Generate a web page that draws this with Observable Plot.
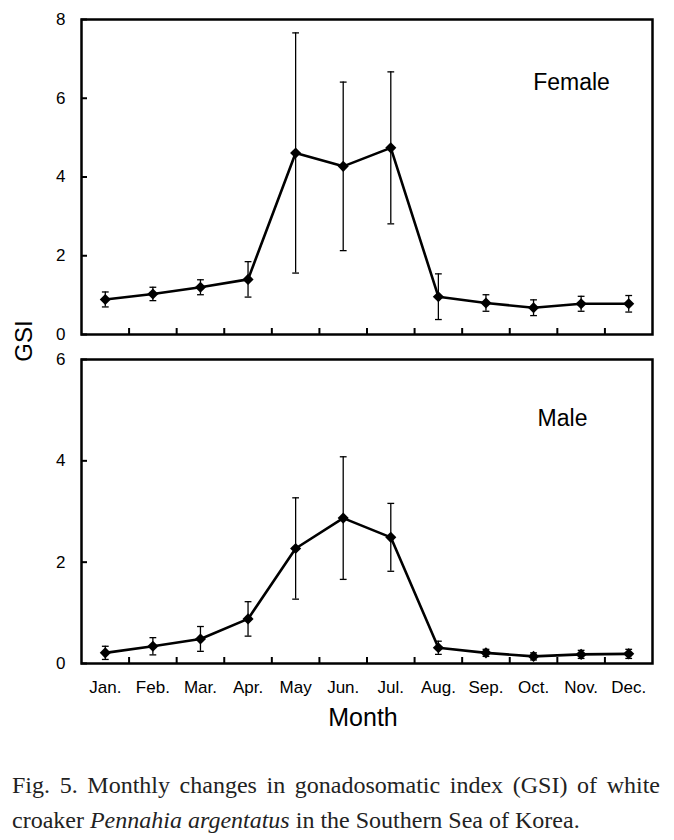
<!DOCTYPE html>
<html>
<head>
<meta charset="utf-8">
<script src="https://cdn.jsdelivr.net/npm/d3@7"></script>
<script src="https://cdn.jsdelivr.net/npm/@observablehq/plot@0.6"></script>
<style>
  html, body { margin: 0; padding: 0; background: #fff; }
  #wrap { position: relative; width: 674px; height: 840px; font-family: "Liberation Sans", Arial, sans-serif; }
  #wrap svg { display: block; overflow: visible; }
  #gsi { position: absolute; left: 23.5px; top: 341px; transform: translate(-50%, -50%) rotate(-90deg); font-size: 24px; white-space: nowrap; color: #000; }
  #caption { position: absolute; left: 12px; top: 768px; width: 648px; font-family: "Liberation Serif", "Times New Roman", serif; font-size: 24px; line-height: 35px; color: #222; }
  #caption .l1 { text-align: justify; text-align-last: justify; white-space: nowrap; }
</style>
</head>
<body>
<div id="wrap">
  <div id="top"></div>
  <div id="bottom"></div>
  <div id="gsi">GSI</div>
  <div id="caption">
    <div class="l1">Fig. 5. Monthly changes in gonadosomatic index (GSI) of white</div>
    <div class="l2">croaker <i>Pennahia argentatus</i> in the Southern Sea of Korea.</div>
  </div>
</div>
<script>
const months = ["Jan.", "Feb.", "Mar.", "Apr.", "May", "Jun.", "Jul.", "Aug.", "Sep.", "Oct.", "Nov.", "Dec."];
const femaleMean = [0.89, 1.03, 1.20, 1.40, 4.61, 4.27, 4.74, 0.96, 0.80, 0.68, 0.78, 0.78];
const femaleSD   = [0.19, 0.17, 0.19, 0.45, 3.05, 2.14, 1.93, 0.58, 0.21, 0.20, 0.19, 0.21];
const maleMean   = [0.21, 0.34, 0.485, 0.88, 2.27, 2.87, 2.49, 0.31, 0.21, 0.14, 0.18, 0.19];
const maleSD     = [0.13, 0.17, 0.245, 0.34, 1.00, 1.21, 0.67, 0.13, 0.07, 0.07, 0.08, 0.09];
const femaleTicks = [0, 2, 4, 6, 8];
const maleTicks = [0, 2, 4, 6];

const monthIdx = months.map((m, i) => i + 1);
const boundaries = d3.range(1.5, months.length, 1);

function table(mean, sd) {
  return months.map((m, i) => ({x: i + 1, month: m, y: mean[i], lo: mean[i] - sd[i], hi: mean[i] + sd[i]}));
}

const capSymbol = {
  draw(ctx, size) {
    const r = Math.sqrt(size / Math.PI);
    ctx.moveTo(-r, 0);
    ctx.lineTo(r, 0);
  }
};

function panel({data, yMax, yTicks, label, height, marginTop, marginBottom, showMonths, labelDx, labelDy}) {
  const marks = [
    Plot.ruleX(data, {x: "x", y1: "lo", y2: "hi", stroke: "#000", strokeWidth: 1.3}),
    Plot.dot(data, {x: "x", y: "hi", symbol: capSymbol, r: 3.4, stroke: "#000", strokeWidth: 1.3, fill: "none"}),
    Plot.dot(data, {x: "x", y: "lo", symbol: capSymbol, r: 3.4, stroke: "#000", strokeWidth: 1.3, fill: "none"}),
    Plot.line(data, {x: "x", y: "y", stroke: "#000", strokeWidth: 2.6}),
    Plot.dot(data, {x: "x", y: "y", symbol: "diamond2", r: 5, fill: "#000", stroke: "none"}),
    Plot.axisY({ticks: yTicks, tickSize: -6, tickPadding: 22, strokeWidth: 2, fontSize: 17, label: null, tickFormat: d => String(d)}),
    Plot.axisX({ticks: boundaries, tickSize: -6, strokeWidth: 2, tickFormat: () => "", label: null}),
    Plot.frame({stroke: "#000", strokeWidth: 2.5}),
    Plot.text([label], {frameAnchor: "top-right", dx: labelDx, dy: labelDy, textAnchor: "middle", lineAnchor: "middle", fontSize: 23, fill: "#000"})
  ];
  if (showMonths) {
    marks.push(Plot.axisX({ticks: monthIdx, tickSize: 0, tickPadding: 17, fontSize: 17, label: null, tickFormat: i => months[i - 1]}));
    marks.push(Plot.text(["Month"], {frameAnchor: "bottom", dx: -4, dy: 54, lineAnchor: "middle", fontSize: 25, fill: "#000"}));
  }
  return Plot.plot({
    width: 674,
    height,
    marginLeft: 81,
    marginRight: 22,
    marginTop,
    marginBottom,
    style: {fontFamily: "Liberation Sans, Arial, sans-serif", color: "#000", background: "transparent", overflow: "visible"},
    x: {type: "linear", domain: [0.5, months.length + 0.5]},
    y: {domain: [0, yMax]},
    marks
  });
}

document.getElementById("top").append(panel({
  data: table(femaleMean, femaleSD), yMax: 8, yTicks: femaleTicks, label: "Female",
  height: 346, marginTop: 19, marginBottom: 12, showMonths: false, labelDx: -81, labelDy: 63
}));
document.getElementById("bottom").append(panel({
  data: table(maleMean, maleSD), yMax: 6, yTicks: maleTicks, label: "Male",
  height: 394, marginTop: 13, marginBottom: 77, showMonths: true, labelDx: -90, labelDy: 59
}));
</script>
</body>
</html>
